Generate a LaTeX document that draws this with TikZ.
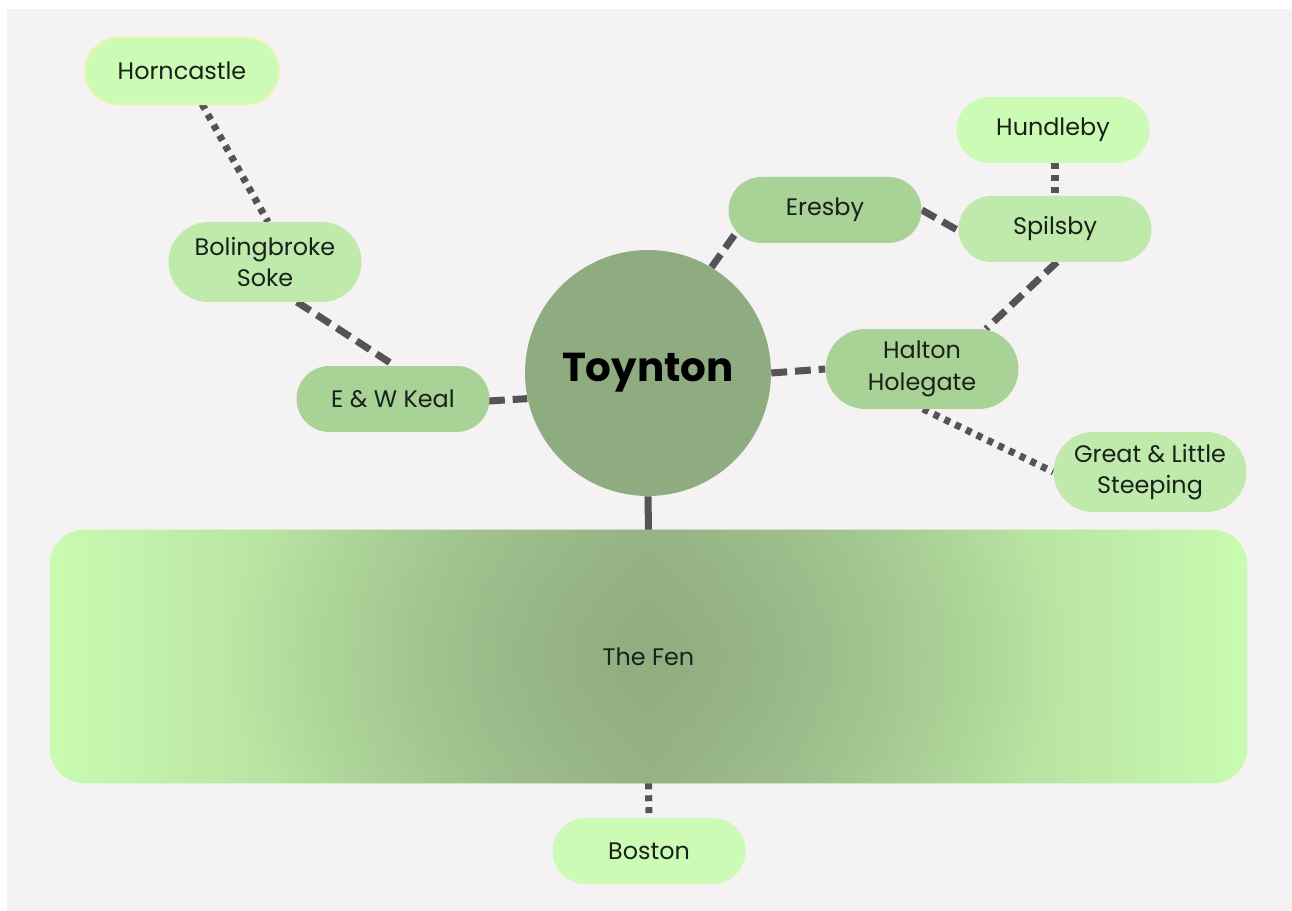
\documentclass[tikz,border=0pt]{standalone}
\usepackage{fontspec}
\setmainfont{Poppins}
\usetikzlibrary{shapes.misc,calc,fadings,backgrounds}
\definecolor{bgc}{HTML}{F4F2F3}
\definecolor{cA}{HTML}{CCFBB6}
\definecolor{cB}{HTML}{BFEAAB}
\definecolor{cC}{HTML}{A8D296}
\definecolor{toyc}{HTML}{8FAB80}
\definecolor{fenL}{HTML}{C9FBB1}
\definecolor{fenM}{HTML}{9BBB8A}
\definecolor{fenD}{HTML}{8CA77D}
\definecolor{linec}{HTML}{555355}
\definecolor{txt}{HTML}{18221A}
\definecolor{glow}{HTML}{E3F7A6}
\tikzfading[name=fenfade, inner color=transparent!0, outer color=transparent!100]
\tikzset{
  pill/.style={rounded rectangle, inner sep=0pt, minimum width=3.86cm, minimum height=1.32cm,
    text=txt, font=\fontsize{13.6}{18}\selectfont, align=center},
  pilltall/.style={pill, minimum height=1.6cm},
  conn/.style={draw=linec, line width=4pt},
  dashconn/.style={conn, dash pattern=on 9pt off 4.5pt},
  dotconn/.style={conn, dash pattern=on 3.4pt off 3.4pt},
}
\begin{document}
\begin{tikzpicture}[x=0.02cm,y=-0.02cm]
\useasboundingbox (0,0) rectangle (1292,911);
% nodes
\node[pill, fill=cA, draw=glow, line width=1.2pt] (horn) at (182,71) {Horncastle};
\node[pilltall, fill=cB] (bol) at (265,262) {Bolingbroke\\Soke};
\node[pill, fill=cC] (keal) at (393,399) {E \& W Keal};
\node[circle, fill=toyc, minimum size=4.92cm, inner sep=0pt, text=black,
      font=\fontsize{23}{26}\selectfont\bfseries] (toy) at (648,373) {Toynton};
\node[pill, fill=cC] (eres) at (825,210) {Eresby};
\node[pill, fill=cA] (hund) at (1053,130) {Hundleby};
\node[pill, fill=cB] (spil) at (1055,229) {Spilsby};
\node[pilltall, fill=cC] (halt) at (922,369) {Halton\\Holegate};
\node[pilltall, fill=cB] (great) at (1150,472) {Great \& Little\\Steeping};
\node[rectangle, minimum width=23.94cm, minimum height=5.06cm, inner sep=0pt,
      text=txt, font=\fontsize{13.6}{18}\selectfont] (fen) at (648.5,656.5) {The Fen};
\node[pill, fill=cA] (bos) at (649,851) {Boston};
\begin{scope}[on background layer]
  \fill[white] (0,0) rectangle (1292,911);
  \fill[bgc] (7,9) rectangle (1292,911);
  \shade[rounded corners=0.7cm, left color=fenL, right color=fenL, middle color=fenM]
    (fen.north west) rectangle (fen.south east);
  \begin{scope}
    \clip[rounded corners=0.7cm] (fen.north west) rectangle (fen.south east);
    \fill[fenD, path fading=fenfade, fill opacity=0.7] (fen.center) ellipse [x radius=420, y radius=260];
  \end{scope}
  % connectors
  \draw[dotconn] ($(horn.center)+(20,33)$) -- ($(bol.center)+(3,-40)$);
  \draw[dashconn] ($(bol.center)+(32,40)$) -- ($(keal.center)+(2,-33)$);
  \draw[dashconn] ($(keal.center)+(96,2)$) -- (toy.192);
  \draw[dashconn] (toy.59) -- ($(eres.center)+(-80,10)$);
  \draw[dashconn] (eres.east) -- ($(spil.center)+(-96,2)$);
  \draw[dotconn] ($(hund.center)+(2,33)$) -- (spil.north);
  \draw[dashconn] ($(spil.center)+(2,33)$) -- ($(halt.center)+(64,-40)$);
  \draw[dashconn] (toy.east) -- (halt.west);
  \draw[dotconn] ($(halt.center)+(1,40)$) -- (great.west);
  \draw[conn] (toy.south) -- (fen.north);
  \draw[dotconn] (fen.south) -- (bos.north);
\end{scope}
\end{tikzpicture}
\end{document}
